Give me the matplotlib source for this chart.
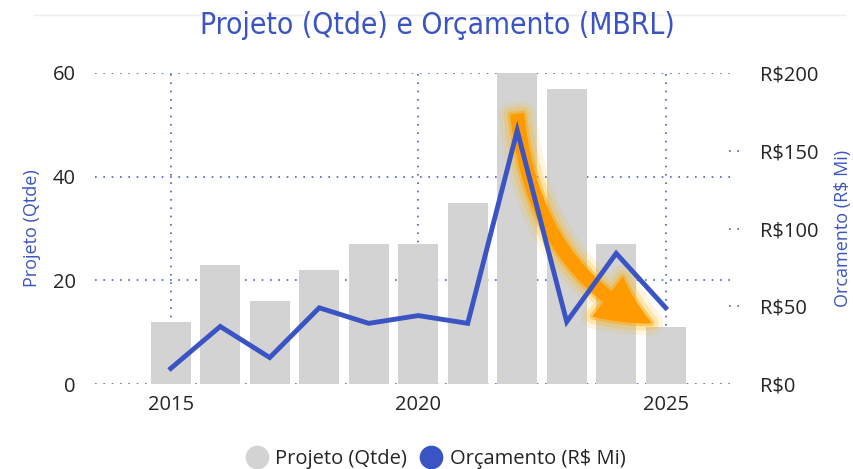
import numpy as np
import matplotlib
matplotlib.use("Agg")
from matplotlib import pyplot as plt
from matplotlib.patches import FancyArrowPatch
from matplotlib.lines import Line2D
import matplotlib.patheffects as pe

years = [2015, 2016, 2017, 2018, 2019, 2020, 2021, 2022, 2023, 2024, 2025]
projetos = [12, 23, 16, 22, 27, 27, 35, 60, 57, 27, 11]
orcamento = [10, 37, 17, 49, 39, 44, 39, 163, 40, 84, 49]
left_ticks = [0, 20, 40, 60]
right_ticks = [0, 50, 100, 150, 200]
right_labels = ["R$0", "R$50", "R$100", "R$150", "R$200"]
x_ticks = [2015, 2020, 2025]

blue = "#3A54C4"
grid_blue = "#4B5FD0"
bar_gray = "#D3D3D3"
txt = "#252423"

plt.rcParams['font.family'] = ['Open Sans', 'DejaVu Sans']

fig = plt.figure(figsize=(8.54, 4.69), dpi=100)
ax = fig.add_axes([95/854, 85/469, 640/854, 311/469])
ax2 = ax.twinx()

ax.bar(years, projetos, width=0.8, color=bar_gray, zorder=2)
ax.set_ylim(0, 60)
ax.set_xlim(2013.47, 2026.4)
ax2.set_ylim(0, 200)

# dotted grid
for v in left_ticks:
    ax.axhline(v, color=grid_blue, linestyle=(0, (1, 4)), linewidth=1.2, zorder=1)
for v in x_ticks:
    ax.axvline(v, color=grid_blue, linestyle=(0, (1, 4)), linewidth=1.2, zorder=1)
ax2.hlines([50, 100, 150], xmin=0.99, xmax=1.01, transform=ax2.get_yaxis_transform(),
           color=grid_blue, linestyle=(0, (1, 4)), linewidth=1.2, clip_on=False)

ax2.plot(years, orcamento, color=blue, linewidth=3.5, zorder=3, solid_joinstyle='miter')

# highlighted trend arrow with glow
arrow = FancyArrowPatch((2022.0, 52), (2024.7, 11.8),
                        connectionstyle="angle3,angleA=-84,angleB=-25",
                        arrowstyle="simple,head_width=2.9,head_length=3.0,tail_width=0.75",
                        mutation_scale=12, color="#FF9A00", zorder=5,
                        shrinkA=0, shrinkB=0,
                        path_effects=[pe.Stroke(linewidth=18, foreground="#FFB400", alpha=0.12),
                                      pe.Stroke(linewidth=11, foreground="#FFB400", alpha=0.24),
                                      pe.Stroke(linewidth=5, foreground="#FFA500", alpha=0.45),
                                      pe.Normal()])
ax.add_patch(arrow)

for a in (ax, ax2):
    for s in a.spines.values():
        s.set_visible(False)

ax.set_yticks(left_ticks)
ax.set_xticks(x_ticks)
ax.tick_params(length=0, labelsize=14.5, colors=txt, pad=14)
ax.tick_params(axis='x', pad=8)
ax2.set_yticks(right_ticks)
ax2.set_yticklabels(right_labels)
ax2.tick_params(length=0, labelsize=14.5, colors=txt, pad=18)

ax.set_ylabel("Projeto (Qtde)", color=blue, fontsize=13)
ax.yaxis.set_label_coords(-0.085, 0.5)
ax2.set_ylabel("Orcamento (R$ Mi)", color=blue, fontsize=13, rotation=90)
ax2.yaxis.set_label_coords(1.155, 0.5)

fig.text(0.512, 0.945, "Projeto (Qtde) e Orçamento (MBRL)", ha='center', va='center',
         color=blue, fontsize=21.5, family=['DejaVu Sans'], stretch='condensed')

fig.add_artist(Line2D([0.04, 0.99], [0.969, 0.969], color="#EEEEEE", linewidth=1))

handles = [Line2D([], [], marker='o', linestyle='', markersize=16, color=bar_gray),
           Line2D([], [], marker='o', linestyle='', markersize=16, color=blue)]
fig.legend(handles, ["Projeto (Qtde)", "Orçamento (R$ Mi)"], loc='center',
           bbox_to_anchor=(0.505, 0.022), ncol=2, frameon=False, fontsize=14.5,
           handletextpad=-0.1, columnspacing=0.2, labelcolor=txt)

fig.savefig("out.png", dpi=100)
